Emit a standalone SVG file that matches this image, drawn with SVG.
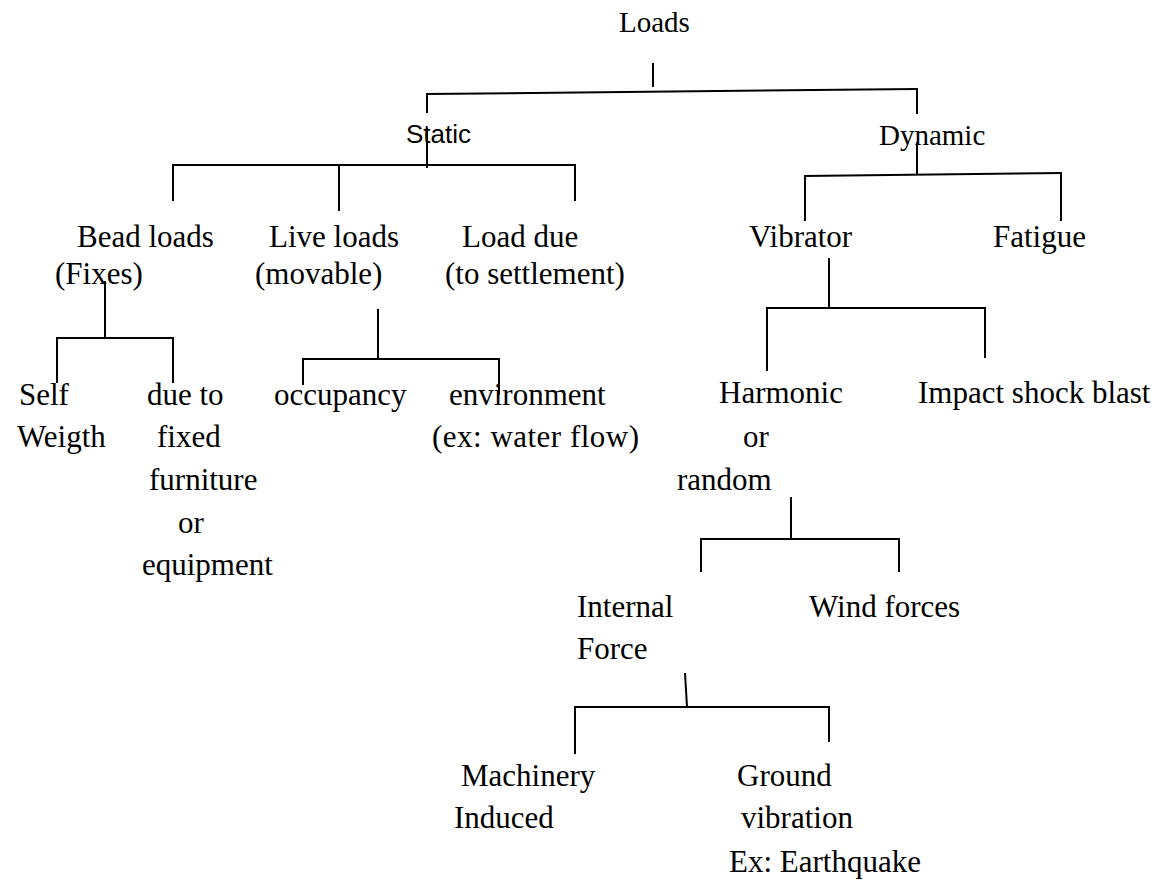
<svg xmlns="http://www.w3.org/2000/svg" width="1162" height="880" viewBox="0 0 1162 880">
<style>
text{font-family:"Liberation Serif","Times New Roman",serif;font-size:31px;fill:#000}
.sm{font-size:29px}
.sans{font-family:"Liberation Sans",Arial,sans-serif;font-size:25px}
#connectors line{stroke:#000;stroke-width:2;fill:none}
</style>
<rect width="1162" height="880" fill="#fff"/>
<g id="connectors">
<line x1="653" y1="63" x2="653" y2="87"/>
<line x1="427" y1="94" x2="917" y2="89"/>
<line x1="427" y1="93" x2="427" y2="113"/>
<line x1="427" y1="128" x2="427" y2="168"/>
<line x1="172" y1="165" x2="576" y2="165"/>
<line x1="173" y1="164" x2="173" y2="201"/>
<line x1="339" y1="164" x2="339" y2="211"/>
<line x1="575" y1="164" x2="575" y2="201"/>
<line x1="917" y1="88" x2="917" y2="114"/>
<line x1="917" y1="142" x2="917" y2="175"/>
<line x1="804" y1="176" x2="1062" y2="173"/>
<line x1="805" y1="175" x2="805" y2="221"/>
<line x1="1061" y1="172" x2="1061" y2="221"/>
<line x1="105" y1="281" x2="105" y2="338"/>
<line x1="56" y1="338" x2="174" y2="338"/>
<line x1="57" y1="337" x2="57" y2="383"/>
<line x1="173" y1="337" x2="173" y2="383"/>
<line x1="378" y1="309" x2="378" y2="358"/>
<line x1="302" y1="359" x2="500" y2="359"/>
<line x1="303" y1="358" x2="303" y2="385"/>
<line x1="499" y1="358" x2="499" y2="395"/>
<line x1="829" y1="258" x2="829" y2="308"/>
<line x1="766" y1="308" x2="986" y2="308"/>
<line x1="767" y1="307" x2="767" y2="371"/>
<line x1="985" y1="307" x2="985" y2="358"/>
<line x1="791" y1="497" x2="791" y2="539"/>
<line x1="700" y1="539" x2="900" y2="539"/>
<line x1="701" y1="538" x2="701" y2="572"/>
<line x1="899" y1="538" x2="899" y2="572"/>
<line x1="685" y1="673" x2="687" y2="707"/>
<line x1="574" y1="707" x2="830" y2="707"/>
<line x1="575" y1="706" x2="575" y2="754"/>
<line x1="829" y1="706" x2="829" y2="742"/>
</g>
<g id="n-loads"><text class="sm" x="619" y="32">Loads</text></g>
<g id="n-static"><text class="sans" x="406" y="143" textLength="65" lengthAdjust="spacingAndGlyphs">Static</text></g>
<g id="n-dynamic"><text class="sm" x="879" y="145">Dynamic</text></g>
<g id="n-bead"><text x="77" y="247">Bead loads</text><text x="55" y="284">(Fixes)</text></g>
<g id="n-live"><text x="269" y="247">Live loads</text><text x="255" y="284">(movable)</text></g>
<g id="n-settle"><text x="462" y="247">Load due</text><text x="445" y="284">(to settlement)</text></g>
<g id="n-vibrator"><text x="749" y="247">Vibrator</text></g>
<g id="n-fatigue"><text x="993" y="247">Fatigue</text></g>
<g id="n-self"><text x="19" y="405">Self</text><text x="17" y="447">Weigth</text></g>
<g id="n-fixed"><text x="147" y="405">due to</text><text x="157" y="447">fixed</text><text x="149" y="490">furniture</text><text x="178" y="533">or</text><text x="142" y="575">equipment</text></g>
<g id="n-occupancy"><text x="274" y="405">occupancy</text></g>
<g id="n-environment"><text x="449" y="405">environment</text><text x="432" y="447" textLength="207" lengthAdjust="spacing">(ex: water flow)</text></g>
<g id="n-harmonic"><text x="719" y="403">Harmonic</text><text x="743" y="447">or</text><text x="677" y="490">random</text></g>
<g id="n-impact"><text x="918" y="403">Impact shock blast</text></g>
<g id="n-internal"><text x="577" y="617">Internal</text><text x="577" y="659">Force</text></g>
<g id="n-wind"><text x="809" y="617">Wind forces</text></g>
<g id="n-machinery"><text x="461" y="786">Machinery</text><text x="454" y="828">Induced</text></g>
<g id="n-ground"><text x="737" y="786">Ground</text><text x="741" y="828">vibration</text><text x="729" y="872">Ex: Earthquake</text></g>
</svg>
